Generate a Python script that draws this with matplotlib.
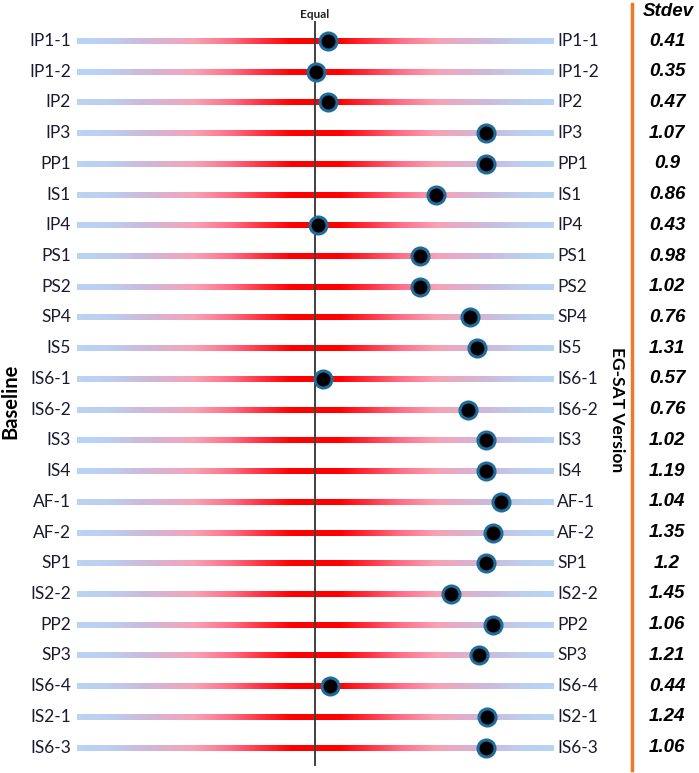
import numpy as np
import matplotlib
matplotlib.use("Agg")
import matplotlib.pyplot as plt
from matplotlib.colors import LinearSegmentedColormap
from matplotlib.transforms import blended_transform_factory

# ---- data ----
items = ["IP1-1", "IP1-2", "IP2", "IP3", "PP1", "IS1", "IP4", "PS1", "PS2", "SP4",
         "IS5", "IS6-1", "IS6-2", "IS3", "IS4", "AF-1", "AF-2", "SP1", "IS2-2",
         "PP2", "SP3", "IS6-4", "IS2-1", "IS6-3"]
scores = [0.16, 0.01, 0.16, 2.16, 2.16, 1.53, 0.04, 1.32, 1.32, 1.95,
          2.04, 0.10, 1.93, 2.16, 2.16, 2.34, 2.24, 2.16, 1.71,
          2.24, 2.07, 0.19, 2.17, 2.16]
stdevs = ["0.41", "0.35", "0.47", "1.07", "0.9", "0.86", "0.43", "0.98", "1.02", "0.76",
          "1.31", "0.57", "0.76", "1.02", "1.19", "1.04", "1.35", "1.2", "1.45",
          "1.06", "1.21", "0.44", "1.24", "1.06"]
scale_min, scale_max = -3, 3

W, H = 699, 773
fig = plt.figure(figsize=(W / 100, H / 100), dpi=100)
ax = fig.add_axes([0, 0, 1, 1])
ax.set_axis_off()

# pixel mapping: bar ends at px 77 and 553, rows at 41 + i*30.72
ppu = (553 - 77) / (scale_max - scale_min)
xmin = scale_min - 77 / ppu
xmax = xmin + W / ppu
row_px = 30.72
ytop = -41 / row_px
ybot = (H - 41) / row_px
ax.set_xlim(xmin, xmax)
ax.set_ylim(ybot, ytop)

cmap = LinearSegmentedColormap.from_list("bluered", [
    (0.00, "#b8d4f4"), (0.12, "#bcd0f0"), (0.28, "#ccbadc"), (0.49, "#f8a2b6"),
    (0.64, "#ff7088"), (0.77, "#ff3444"), (0.90, "#ff0000"), (1.00, "#ff0000")])

xs = np.linspace(scale_min, scale_max, 600)
tvals = 1 - np.abs(xs) / scale_max
grad = tvals[np.newaxis, :]
half_h = 3.0 / row_px
for i in range(len(items)):
    ax.imshow(grad, cmap=cmap, vmin=0, vmax=1, aspect="auto",
              extent=[scale_min, scale_max, i + half_h, i - half_h],
              interpolation="bilinear", zorder=1)

# equal line
ax.plot([0, 0], [ytop + 22 / row_px, ytop + 765 / row_px], color="#404040", lw=1.4, zorder=2)
ax.text(0, ytop + 14 / row_px, "Equal", ha="center", va="center", fontsize=8.5,
        fontweight="bold", family="Lato", color="#222222")

# dots
ax.scatter(scores, range(len(items)), s=150, c="black", edgecolors="#1f6c9c",
           linewidths=2.2, zorder=3)

tr = blended_transform_factory(ax.transAxes, ax.transData)
for i, (lab, sd) in enumerate(zip(items, stdevs)):
    ax.text(71 / W, i, lab, transform=tr, ha="right", va="center", fontsize=12.5,
            family="Lato", color="#1a1a30")
    ax.text(557 / W, i, lab, transform=tr, ha="left", va="center", fontsize=12.5,
            family="Lato", color="#1a1a30")
    ax.text(667 / W, i, sd, transform=tr, ha="center", va="center", fontsize=13.5,
            family="Liberation Sans", fontweight="bold", fontstyle="italic", color="black")

fig.text(668 / W, 1 - 11 / H, "Stdev", ha="center", va="center", fontsize=13.5,
         family="Liberation Sans", fontweight="bold", fontstyle="italic", color="black")
fig.add_artist(plt.Line2D([632 / W, 632 / W], [1 - 4 / H, 1 - 770 / H],
                          color="#f07a22", lw=2.5, transform=fig.transFigure))

fig.text(10 / W, 1 - 401 / H, "Baseline", rotation=90, ha="center", va="center",
         fontsize=14.5, fontweight="bold", family="Lato", color="black")
fig.text(617 / W, 1 - 410 / H, "EG-SAT Version", rotation=-90, ha="center", va="center",
         fontsize=12.5, fontweight="bold", family="Lato", color="black")

fig.savefig("out.png", dpi=100)
